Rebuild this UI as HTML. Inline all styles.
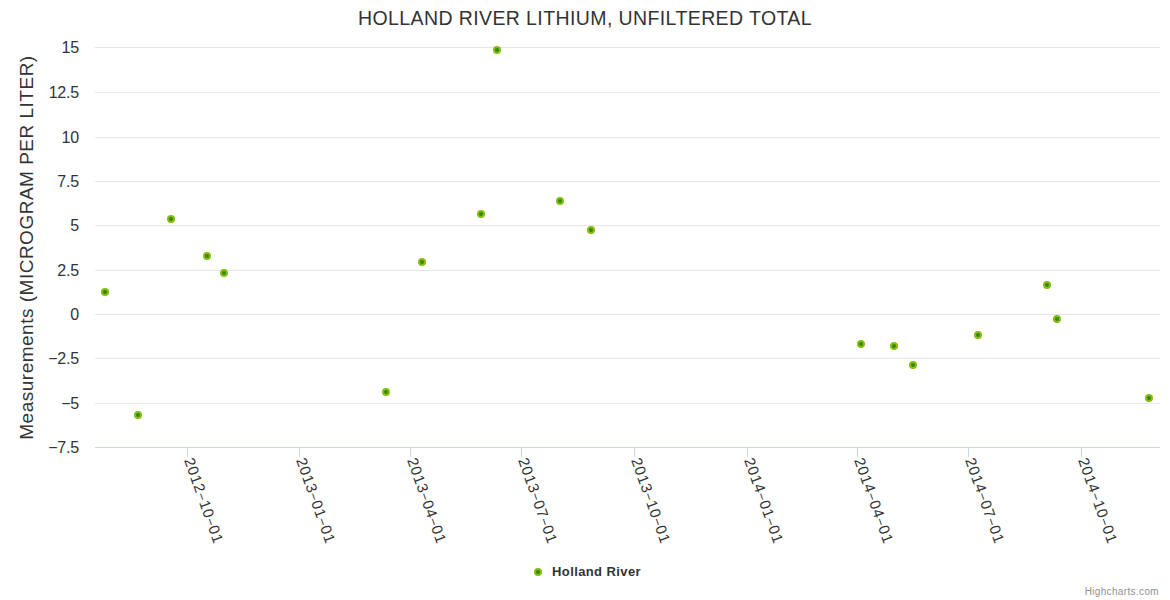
<!DOCTYPE html>
<html><head><meta charset="utf-8"><style>
html,body{margin:0;padding:0;background:#fff;overflow:hidden;width:1170px;height:600px;}
svg{display:block;}
text{font-family:"Liberation Sans",sans-serif;}
.title{font-size:19.5px;fill:#333333;letter-spacing:0.4px;}
.ytitle{font-size:19px;fill:#333333;letter-spacing:0.5px;}
.yl{font-size:16px;fill:#333333;letter-spacing:-0.2px;}
.xl{font-size:15px;fill:#333333;letter-spacing:0.8px;}
.legend{font-size:13px;font-weight:bold;fill:#333333;letter-spacing:0.4px;}
.credits{font-size:10px;fill:#909090;letter-spacing:0.35px;}
</style></head><body>
<svg width="1170" height="600">
<rect x="0" y="0" width="1170" height="600" fill="#FFFFFF"/>
<rect x="95" y="47" width="1065" height="1" fill="#E6E6E6"/>
<rect x="95" y="92" width="1065" height="1" fill="#E6E6E6"/>
<rect x="95" y="137" width="1065" height="1" fill="#E6E6E6"/>
<rect x="95" y="181" width="1065" height="1" fill="#E6E6E6"/>
<rect x="95" y="225" width="1065" height="1" fill="#E6E6E6"/>
<rect x="95" y="270" width="1065" height="1" fill="#E6E6E6"/>
<rect x="95" y="314" width="1065" height="1" fill="#E6E6E6"/>
<rect x="95" y="358" width="1065" height="1" fill="#E6E6E6"/>
<rect x="95" y="403" width="1065" height="1" fill="#E6E6E6"/>
<rect x="95" y="447" width="1065" height="1" fill="#CCD6EB"/>
<rect x="187" y="448" width="1" height="9" fill="#CCD6EB"/>
<rect x="299" y="448" width="1" height="9" fill="#CCD6EB"/>
<rect x="410" y="448" width="1" height="9" fill="#CCD6EB"/>
<rect x="521" y="448" width="1" height="9" fill="#CCD6EB"/>
<rect x="634" y="448" width="1" height="9" fill="#CCD6EB"/>
<rect x="747" y="448" width="1" height="9" fill="#CCD6EB"/>
<rect x="857" y="448" width="1" height="9" fill="#CCD6EB"/>
<rect x="968" y="448" width="1" height="9" fill="#CCD6EB"/>
<rect x="1081" y="448" width="1" height="9" fill="#CCD6EB"/>
<text x="79" y="53" text-anchor="end" class="yl">15</text>
<text x="79" y="98" text-anchor="end" class="yl">12.5</text>
<text x="79" y="143" text-anchor="end" class="yl">10</text>
<text x="79" y="187" text-anchor="end" class="yl">7.5</text>
<text x="79" y="231" text-anchor="end" class="yl">5</text>
<text x="79" y="276" text-anchor="end" class="yl">2.5</text>
<text x="79" y="320" text-anchor="end" class="yl">0</text>
<text x="79" y="364" text-anchor="end" class="yl">−2.5</text>
<text x="79" y="409" text-anchor="end" class="yl">−5</text>
<text x="79" y="453" text-anchor="end" class="yl">−7.5</text>
<text x="184.0" y="460" transform="rotate(70.5 184.0 460)" class="xl">2012<tspan font-size="13">&#8722;</tspan>10<tspan font-size="13">&#8722;</tspan>01</text>
<text x="296.0" y="460" transform="rotate(70.5 296.0 460)" class="xl">2013<tspan font-size="13">&#8722;</tspan>01<tspan font-size="13">&#8722;</tspan>01</text>
<text x="407.0" y="460" transform="rotate(70.5 407.0 460)" class="xl">2013<tspan font-size="13">&#8722;</tspan>04<tspan font-size="13">&#8722;</tspan>01</text>
<text x="518.0" y="460" transform="rotate(70.5 518.0 460)" class="xl">2013<tspan font-size="13">&#8722;</tspan>07<tspan font-size="13">&#8722;</tspan>01</text>
<text x="631.0" y="460" transform="rotate(70.5 631.0 460)" class="xl">2013<tspan font-size="13">&#8722;</tspan>10<tspan font-size="13">&#8722;</tspan>01</text>
<text x="744.0" y="460" transform="rotate(70.5 744.0 460)" class="xl">2014<tspan font-size="13">&#8722;</tspan>01<tspan font-size="13">&#8722;</tspan>01</text>
<text x="854.0" y="460" transform="rotate(70.5 854.0 460)" class="xl">2014<tspan font-size="13">&#8722;</tspan>04<tspan font-size="13">&#8722;</tspan>01</text>
<text x="965.0" y="460" transform="rotate(70.5 965.0 460)" class="xl">2014<tspan font-size="13">&#8722;</tspan>07<tspan font-size="13">&#8722;</tspan>01</text>
<text x="1078.0" y="460" transform="rotate(70.5 1078.0 460)" class="xl">2014<tspan font-size="13">&#8722;</tspan>10<tspan font-size="13">&#8722;</tspan>01</text>
<circle cx="105" cy="292" r="3" fill="#2F8A07" stroke="#88BC0A" stroke-width="2"/>
<circle cx="138" cy="415" r="3" fill="#2F8A07" stroke="#88BC0A" stroke-width="2"/>
<circle cx="171" cy="219" r="3" fill="#2F8A07" stroke="#88BC0A" stroke-width="2"/>
<circle cx="207" cy="256" r="3" fill="#2F8A07" stroke="#88BC0A" stroke-width="2"/>
<circle cx="224" cy="273" r="3" fill="#2F8A07" stroke="#88BC0A" stroke-width="2"/>
<circle cx="386" cy="392" r="3" fill="#2F8A07" stroke="#88BC0A" stroke-width="2"/>
<circle cx="422" cy="262" r="3" fill="#2F8A07" stroke="#88BC0A" stroke-width="2"/>
<circle cx="481" cy="214" r="3" fill="#2F8A07" stroke="#88BC0A" stroke-width="2"/>
<circle cx="497" cy="50" r="3" fill="#2F8A07" stroke="#88BC0A" stroke-width="2"/>
<circle cx="560" cy="201" r="3" fill="#2F8A07" stroke="#88BC0A" stroke-width="2"/>
<circle cx="591" cy="230" r="3" fill="#2F8A07" stroke="#88BC0A" stroke-width="2"/>
<circle cx="861" cy="344" r="3" fill="#2F8A07" stroke="#88BC0A" stroke-width="2"/>
<circle cx="894" cy="346" r="3" fill="#2F8A07" stroke="#88BC0A" stroke-width="2"/>
<circle cx="913" cy="365" r="3" fill="#2F8A07" stroke="#88BC0A" stroke-width="2"/>
<circle cx="978" cy="335" r="3" fill="#2F8A07" stroke="#88BC0A" stroke-width="2"/>
<circle cx="1047" cy="285" r="3" fill="#2F8A07" stroke="#88BC0A" stroke-width="2"/>
<circle cx="1057" cy="319" r="3" fill="#2F8A07" stroke="#88BC0A" stroke-width="2"/>
<circle cx="1149" cy="398" r="3" fill="#2F8A07" stroke="#88BC0A" stroke-width="2"/>
<text x="585" y="25" text-anchor="middle" class="title">HOLLAND RIVER LITHIUM, UNFILTERED TOTAL</text>
<text x="0" y="0" transform="translate(32.5 247.5) rotate(-90)" text-anchor="middle" class="ytitle">Measurements (MICROGRAM PER LITER)</text>
<circle cx="538" cy="572" r="3" fill="#2F8A07" stroke="#88BC0A" stroke-width="2"/>
<text x="552" y="576" class="legend">Holland River</text>
<text x="1159" y="595" text-anchor="end" class="credits">Highcharts.com</text>
</svg>
</body></html>
